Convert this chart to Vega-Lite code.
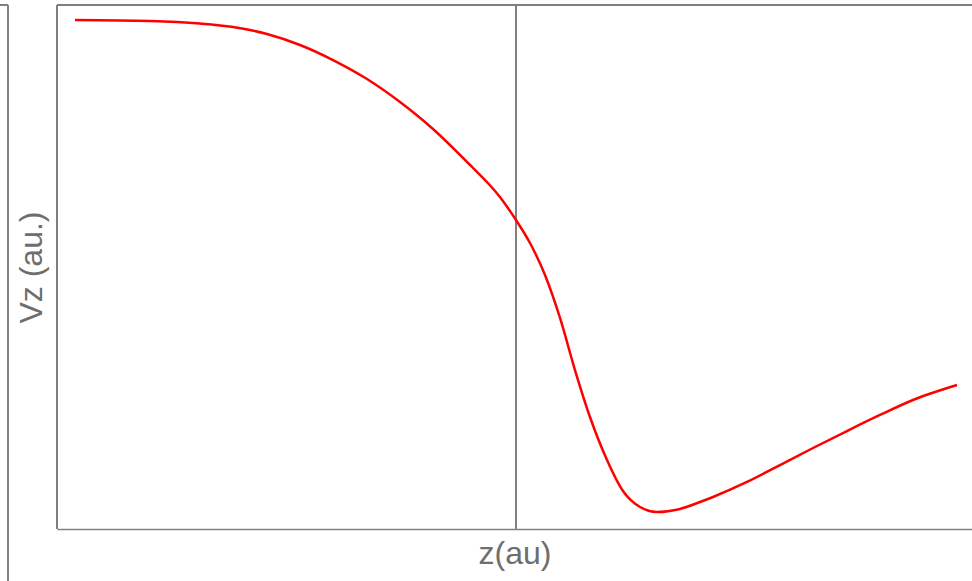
{
  "$schema": "https://vega.github.io/schema/vega-lite/v6.json",
  "autosize": {"type": "none"},
  "padding": {"left": 57, "top": 5, "right": 0, "bottom": 52},
  "width": 915,
  "height": 524,
  "config": {
    "view": {"stroke": null},
    "font": "Liberation Sans"
  },
  "data": {
    "values": [
      {"z": -9.608, "v": 9.714},
      {"z": -7.974, "v": 9.695},
      {"z": -6.885, "v": 9.647},
      {"z": -6.166, "v": 9.580},
      {"z": -5.425, "v": 9.447},
      {"z": -4.706, "v": 9.237},
      {"z": -3.987, "v": 8.950},
      {"z": -3.246, "v": 8.588},
      {"z": -2.527, "v": 8.149},
      {"z": -1.808, "v": 7.634},
      {"z": -1.089, "v": 7.023},
      {"z": -0.349, "v": 6.334},
      {"z": 0.0, "v": 5.897},
      {"z": 0.305, "v": 5.458},
      {"z": 0.632, "v": 4.847},
      {"z": 0.959, "v": 4.027},
      {"z": 1.285, "v": 3.034},
      {"z": 1.612, "v": 2.137},
      {"z": 1.983, "v": 1.317},
      {"z": 2.331, "v": 0.725},
      {"z": 2.702, "v": 0.420},
      {"z": 3.072, "v": 0.324},
      {"z": 3.573, "v": 0.382},
      {"z": 4.009, "v": 0.515},
      {"z": 4.292, "v": 0.611},
      {"z": 5.033, "v": 0.897},
      {"z": 5.752, "v": 1.221},
      {"z": 6.471, "v": 1.546},
      {"z": 7.211, "v": 1.870},
      {"z": 7.930, "v": 2.176},
      {"z": 8.649, "v": 2.462},
      {"z": 9.608, "v": 2.748}
    ]
  },
  "layer": [
    {
      "mark": {"type": "rule", "color": "#808080", "strokeWidth": 1.5},
      "encoding": {"x": {"datum": -10}}
    },
    {
      "mark": {"type": "rule", "color": "#808080", "strokeWidth": 1.5},
      "encoding": {"y": {"datum": 10}}
    },
    {
      "mark": {"type": "rule", "color": "#808080", "strokeWidth": 1.2},
      "encoding": {"x": {"datum": 0}}
    },
    {
      "mark": {"type": "rule", "color": "#808080", "strokeWidth": 1.5},
      "encoding": {"x": {"datum": -11.07}, "y": {"datum": 10}, "y2": {"datum": -1.5}}
    },
    {
      "mark": {"type": "rule", "color": "#808080", "strokeWidth": 1.5},
      "encoding": {"x": {"datum": -11.4}, "x2": {"datum": -11.07}, "y": {"datum": 10}}
    },
    {
      "mark": {"type": "line", "color": "#ff0000", "strokeWidth": 2.5, "interpolate": "monotone"},
      "encoding": {
        "x": {
          "field": "z", "type": "quantitative",
          "scale": {"domain": [-10, 9.935], "nice": false, "zero": false},
          "axis": {
            "title": "z(au)", "labels": false, "ticks": false, "grid": false,
            "domain": true, "domainColor": "#808080", "domainWidth": 1.5,
            "titleFontSize": 32, "titleFontWeight": "normal", "titleColor": "#6e6e6e",
            "titlePadding": 9, "titleFont": "Liberation Sans"
          }
        },
        "y": {
          "field": "v", "type": "quantitative",
          "scale": {"domain": [0, 10], "nice": false, "zero": false},
          "axis": {
            "title": "Vz (au.)", "labels": false, "ticks": false, "grid": false,
            "domain": false,
            "titleFontSize": 32, "titleFontWeight": "normal", "titleColor": "#6e6e6e",
            "titlePadding": 9, "titleFont": "Liberation Sans"
          }
        }
      }
    }
  ]
}
